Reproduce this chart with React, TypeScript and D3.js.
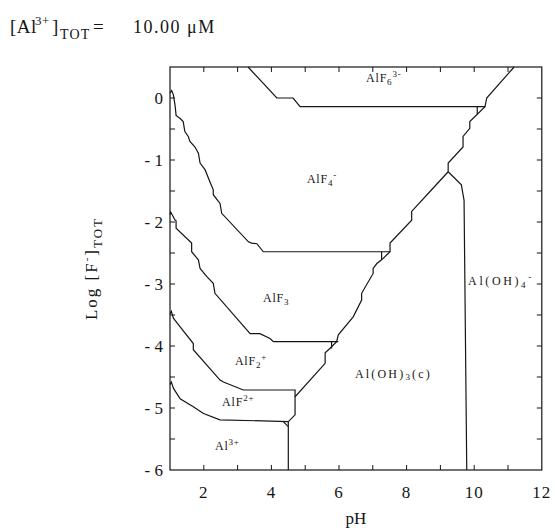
import React from 'react';
import * as d3 from 'd3';

const W = 555;
const H = 528;

const X_DOMAIN = [1, 12];
const Y_DOMAIN = [-6, 0.5];

const xTickLabels = [2, 4, 6, 8, 10, 12];
const xTicks = [2, 3, 4, 5, 6, 7, 8, 9, 10, 11];
const yTickLabels = [0, -1, -2, -3, -4, -5, -6];
const yTicks = [0, -0.5, -1, -1.5, -2, -2.5, -3, -3.5, -4, -4.5, -5, -5.5];

// boundaries, [pH, log F]
const bAlF6 = [[3.31, 0.5], [4.16, 0.0], [4.64, 0.0], [4.85, -0.14], [10.32, -0.14]];

const bRightUpper = [
  [9.23, -1.19], [9.23, -1.05], [9.67, -0.79], [9.67, -0.62], [9.87, -0.49],
  [9.87, -0.38], [10.32, -0.14], [10.37, 0.0], [11.18, 0.5],
];

const bAlOH3Left = [
  [9.23, -1.19], [8.74, -1.48], [8.15, -1.83], [8.15, -1.97], [7.51, -2.34],
  [7.51, -2.48], [7.26, -2.61], [7.12, -2.67], [7.01, -2.75], [7.01, -2.83],
  [6.67, -3.15], [6.67, -3.26], [6.42, -3.53], [5.98, -3.82], [5.93, -3.93],
  [5.73, -4.04], [5.59, -4.11], [5.59, -4.28], [4.7, -4.82], [4.7, -5.11],
  [4.5, -5.22], [4.5, -6.0],
];

const bAlOH4 = [[9.23, -1.19], [9.62, -1.4], [9.7, -1.65], [9.78, -6.0]];

const bAlF4AlF3 = [
  [1.0, 0.08], [1.05, 0.12], [1.1, 0.05], [1.15, -0.12], [1.18, -0.28],
  [1.3, -0.33], [1.39, -0.38], [1.44, -0.54], [1.54, -0.62], [1.59, -0.7],
  [1.74, -0.79], [1.84, -0.89], [1.89, -1.05], [2.04, -1.16], [2.18, -1.35],
  [2.28, -1.48], [2.28, -1.56], [2.48, -1.7], [2.53, -1.86], [3.32, -2.32],
  [3.42, -2.34], [3.57, -2.35], [3.76, -2.48], [7.51, -2.48],
];

const bAlF3AlF2 = [
  [1.0, -1.88], [1.02, -1.84], [1.15, -1.97], [1.18, -1.98], [1.18, -2.1],
  [1.64, -2.34], [1.64, -2.48], [1.84, -2.61], [1.89, -2.75], [2.09, -2.88],
  [2.28, -2.99], [2.33, -3.15], [3.37, -3.8], [3.66, -3.8], [3.96, -3.88],
  [4.06, -3.93], [5.98, -3.93],
];

const bAlF2AlF = [
  [1.0, -3.48], [1.04, -3.44], [1.1, -3.55], [1.3, -3.69], [1.69, -3.96],
  [1.69, -4.06], [2.48, -4.55], [2.58, -4.58], [3.17, -4.71], [4.7, -4.71],
  [4.7, -4.82],
];

const bAlFAl = [
  [1.0, -4.62], [1.04, -4.58], [1.1, -4.68], [1.3, -4.85], [1.69, -4.98],
  [1.99, -5.09], [2.48, -5.19], [4.5, -5.22],
];

const stubs = [
  [[10.09, -0.14], [10.09, -0.26]],
  [[7.26, -2.48], [7.26, -2.61]],
  [[5.78, -3.93], [5.78, -4.04]],
  [[4.35, -5.22], [4.5, -5.3]],
];

const boundaries = [bAlF6, bRightUpper, bAlOH3Left, bAlOH4, bAlF4AlF3, bAlF3AlF2, bAlF2AlF, bAlFAl, ...stubs];

// region labels: [main, sub, sup, pH, logF, letterSpacing]
const labels = [
  ['AlF', '6', '3-', 6.8, 0.26, 0.8],
  ['AlF', '4', '-', 5.05, -1.37, 0.8],
  ['AlF', '3', '', 3.75, -3.29, 0.8],
  ['AlF', '2', '+', 2.92, -4.31, 0.8],
  ['AlF', '', '2+', 2.54, -4.97, 0.8],
  ['Al', '', '3+', 2.33, -5.68, 0.8],
  ['Al(OH)', '4', '-', 9.82, -3.02, 2.6],
];

const SERIF = '"Liberation Serif", "DejaVu Serif", serif';

export default function App() {
  const x = d3.scaleLinear().domain(X_DOMAIN).range([170, 541.8]);
  const y = d3.scaleLinear().domain(Y_DOMAIN).range([470, 67]);
  const line = d3.line<number[]>().x(d => x(d[0])).y(d => y(d[1]));

  const x0 = x(X_DOMAIN[0]), x1 = x(X_DOMAIN[1]);
  const y0 = y(Y_DOMAIN[0]), y1 = y(Y_DOMAIN[1]);
  const ink = '#151515';

  return (
    <svg width={W} height={H} style={{ position: 'absolute', left: 0, top: 0, background: '#fff' }}
      fontFamily={SERIF}>
      {/* title */}
      <g fill={ink}>
        <text x={10} y={33} fontSize={19} letterSpacing={0.5}>[Al</text>
        <text x={35} y={25} fontSize={13} letterSpacing={0.5}>3+</text>
        <text x={52} y={33} fontSize={19}>]</text>
        <text x={60} y={39} fontSize={14} letterSpacing={1.2}>TOT</text>
        <text x={93} y={33} fontSize={19}>=</text>
        <text x={133} y={33} fontSize={18} letterSpacing={1.5}>10.00 μM</text>
      </g>

      {/* frame */}
      <rect x={x0} y={y1} width={x1 - x0} height={y0 - y1} fill="none" stroke={ink} strokeWidth={1.2} />

      {xTicks.map(t => (
        <g key={'xt' + t} stroke={ink} strokeWidth={1}>
          <line x1={x(t)} x2={x(t)} y1={y0} y2={y0 - 5} />
          <line x1={x(t)} x2={x(t)} y1={y1} y2={y1 + 5} />
        </g>
      ))}
      {yTicks.map(t => (
        <g key={'yt' + t} stroke={ink} strokeWidth={1}>
          <line x1={x0} x2={x0 + 5} y1={y(t)} y2={y(t)} />
          <line x1={x1} x2={x1 - 5} y1={y(t)} y2={y(t)} />
        </g>
      ))}
      {xTickLabels.map(t => (
        <text key={'xl' + t} x={x(t)} y={y0 + 28} fontSize={17} textAnchor="middle" fill={ink}
          letterSpacing={1}>{t}</text>
      ))}
      {yTickLabels.map(t => (
        <text key={'yl' + t} x={x0 - 7} y={y(t) + 6} fontSize={17} textAnchor="end" fill={ink}>
          {t < 0 ? '- ' + Math.abs(t) : String(t)}
        </text>
      ))}

      {/* axis titles */}
      <text x={x((X_DOMAIN[0] + X_DOMAIN[1]) / 2)} y={524} fontSize={17} textAnchor="middle" fill={ink}>pH</text>
      <text transform={`translate(97, ${y(-2.75)}) rotate(-90)`} fontSize={17} textAnchor="middle" fill={ink}
        letterSpacing={2}>
        Log [F<tspan fontSize={11} dy={-7}>-</tspan><tspan dy={7}>]</tspan>
        <tspan fontSize={13} dy={5}>TOT</tspan>
      </text>

      {/* boundaries */}
      {boundaries.map((b, i) => (
        <path key={'b' + i} d={line(b) || ''} fill="none" stroke={ink} strokeWidth={1.2} />
      ))}

      {/* region labels */}
      {labels.map(([m, sub, sup, px, py, ls], i) => (
        <text key={'l' + i} x={x(px as number)} y={y(py as number)} fontSize={12} fill={ink}
          letterSpacing={ls as number}>
          {m}
          {sub ? <tspan fontSize={9} dy={3}>{sub}</tspan> : null}
          {sup ? <tspan fontSize={9} dy={sub ? -8 : -5}>{sup}</tspan> : null}
        </text>
      ))}
      <text x={x(6.47)} y={y(-4.52)} fontSize={12} fill={ink} letterSpacing={2.2}>
        Al(OH)<tspan fontSize={9} dy={2}>3</tspan><tspan dy={-2}>(c)</tspan>
      </text>
    </svg>
  );
}
